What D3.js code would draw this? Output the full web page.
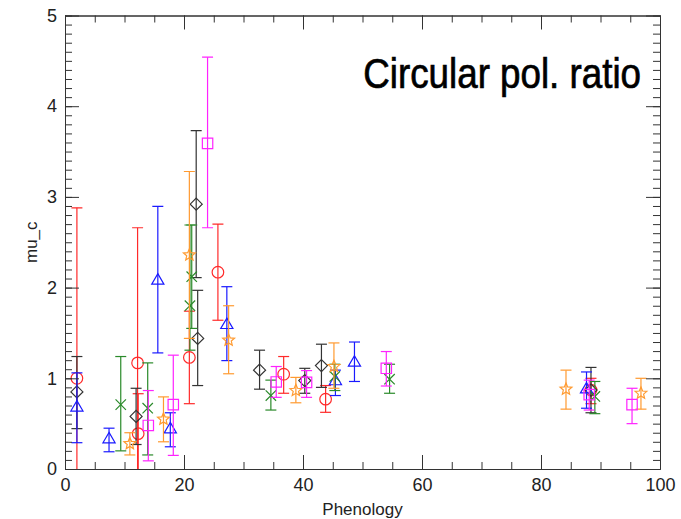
<!DOCTYPE html>
<html>
<head>
<meta charset="utf-8">
<script src="https://cdn.jsdelivr.net/npm/d3@7"></script>
<style>
  html, body { margin: 0; padding: 0; background: #fff; }
  svg { display: block; }
</style>
</head>
<body>
<svg id="chart" width="681" height="519"></svg>
<script>
// ---------- data ----------
const xTicks = [0, 20, 40, 60, 80, 100];
const yTicks = [0, 1, 2, 3, 4, 5];
const xLabel = "Phenology";
const yLabel = "mu_c";
const title = "Circular pol. ratio";

// red circles
const redX  = [2.0, 12.2, 12.3, 20.9, 25.7, 36.75, 43.8, 88.4];
const redY  = [1.00, 1.17, 0.39, 1.23, 2.17, 1.045, 0.77, 0.87];
const redLo = [-0.88, -0.32, -0.05, 0.72, 1.64, 0.835, 0.625, 0.72];
const redHi = [2.88, 2.66, 0.83, 1.74, 2.70, 1.24, 0.92, 1.00];

// black diamonds
const blackX  = [2.0, 11.95, 22.05, 22.3, 32.7, 40.3, 43.1, 88.4];
const blackY  = [0.85, 0.58, 2.92, 1.44, 1.09, 0.975, 1.14, 0.87];
const blackLo = [0.445, 0.27, 2.11, 0.92, 0.88, 0.835, 0.90, 0.62];
const blackHi = [1.24, 0.89, 3.73, 1.97, 1.31, 1.11, 1.376, 1.12];

// blue triangles
const blueX  = [2.0, 7.4, 15.6, 17.7, 27.2, 45.45, 48.65, 87.65];
const blueY  = [0.69, 0.34, 2.09, 0.45, 1.60, 0.98, 1.185, 0.89];
const blueLo = [0.29, 0.19, 1.28, 0.245, 1.195, 0.81, 0.965, 0.67];
const blueHi = [1.06, 0.45, 2.895, 0.62, 2.01, 1.09, 1.40, 1.07];

// green crosses
const greenX  = [9.37, 13.9, 21.3, 21.0, 34.6, 45.35, 54.55, 89.05];
const greenY  = [0.71, 0.67, 2.12, 1.80, 0.81, 1.02, 0.99, 0.80];
const greenLo = [0.20, 0.155, 1.55, 1.31, 0.65, 0.865, 0.835, 0.61];
const greenHi = [1.24, 1.17, 2.69, 2.69, 0.98, 1.155, 1.155, 0.965];

// orange stars
const orangeX  = [10.9, 16.55, 20.9, 27.5, 38.8, 45.2, 84.2, 96.8];
const orangeY  = [0.28, 0.55, 2.36, 1.42, 0.865, 1.13, 0.88, 0.835];
const orangeLo = [0.155, 0.30, 1.44, 1.05, 0.73, 0.89, 0.66, 0.66];
const orangeHi = [0.40, 0.795, 3.28, 1.80, 1.01, 1.39, 1.09, 1.00];

// magenta squares
const magentaX  = [14.0, 18.2, 23.96, 35.5, 40.6, 54.0, 88.1, 95.3];
const magentaY  = [0.48, 0.71, 3.59, 0.96, 0.955, 1.11, 0.82, 0.71];
const magentaLo = [0.09, 0.15, 2.66, 0.79, 0.79, 0.915, 0.65, 0.50];
const magentaHi = [0.865, 1.255, 4.54, 1.13, 1.085, 1.295, 0.98, 0.89];

// ---------- layout ----------
const W = 681, H = 519;
const margin = { left: 65, right: 21, top: 15.5, bottom: 50 };
const x = d3.scaleLinear().domain([0, 100]).range([margin.left, W - margin.right]);
const y = d3.scaleLinear().domain([0, 5]).range([H - margin.bottom, margin.top]);
const axisColor = "#333";
const fontFam = "'Liberation Sans', Arial, Helvetica, sans-serif";

const svg = d3.select("#chart");

svg.append("defs").append("clipPath").attr("id", "plotClip")
  .append("rect")
  .attr("x", x(0)).attr("y", y(5))
  .attr("width", x(100) - x(0)).attr("height", y(0) - y(5));

// ---------- symbols ----------
function circlePath(r) { const p = d3.path(); p.arc(0, 0, r, 0, 2 * Math.PI); p.closePath(); return p.toString(); }
function squarePath(s) { return `M${-s},${-s}L${s},${-s}L${s},${s}L${-s},${s}Z`; }
function diamondPath(s) { return `M0,${-s}L${s},0L0,${s}L${-s},0Z`; }
function trianglePath(s) { return `M0,${-s}L${s * 1.05},${s * 0.8}L${-s * 1.05},${s * 0.8}Z`; }
function crossPath(s) { return `M${-s},${-s}L${s},${s}M${-s},${s}L${s},${-s}`; }
function starPath(R) {
  const r = R * 0.45; let d = "";
  for (let i = 0; i < 10; i++) {
    const a = -Math.PI / 2 + i * Math.PI / 5;
    const rr = i % 2 === 0 ? R : r;
    d += (i === 0 ? "M" : "L") + (rr * Math.cos(a)).toFixed(2) + "," + (rr * Math.sin(a)).toFixed(2);
  }
  return d + "Z";
}

const series = [
  { xs: redX, ys: redY, lo: redLo, hi: redHi, color: "#ff2a2a", path: circlePath(5.8) },
  { xs: blackX, ys: blackY, lo: blackLo, hi: blackHi, color: "#333333", path: diamondPath(6) },
  { xs: blueX, ys: blueY, lo: blueLo, hi: blueHi, color: "#1a1aff", path: trianglePath(5.8) },
  { xs: greenX, ys: greenY, lo: greenLo, hi: greenHi, color: "#2a8a2a", path: crossPath(5.2) },
  { xs: orangeX, ys: orangeY, lo: orangeLo, hi: orangeHi, color: "#ff9a30", path: starPath(6.2) },
  { xs: magentaX, ys: magentaY, lo: magentaLo, hi: magentaHi, color: "#ff22ff", path: squarePath(5.2) }
];

const plot = svg.append("g").attr("clip-path", "url(#plotClip)");
const cap = 5.5;

series.forEach(s => {
  const g = plot.append("g").attr("stroke", s.color).attr("fill", "none").attr("stroke-width", 1.2);
  s.xs.forEach((xv, i) => {
    const px = x(xv);
    g.append("line").attr("x1", px).attr("x2", px).attr("y1", y(s.lo[i])).attr("y2", y(s.hi[i]));
    g.append("line").attr("x1", px - cap).attr("x2", px + cap).attr("y1", y(s.lo[i])).attr("y2", y(s.lo[i]));
    g.append("line").attr("x1", px - cap).attr("x2", px + cap).attr("y1", y(s.hi[i])).attr("y2", y(s.hi[i]));
    g.append("path").attr("d", s.path).attr("transform", `translate(${px},${y(s.ys[i])})`);
  });
});

// ---------- axes ----------
const xMinor = d3.range(0, 101, 5);
const yMinor = d3.range(0, 50.5, 1).map(v => v / 10);
const majorLen = 14, minorLen = 7;

function drawAxis(axisGen, transform) {
  const g = svg.append("g").attr("transform", transform).call(axisGen);
  g.selectAll("path.domain").attr("stroke", axisColor);
  g.selectAll(".tick line").attr("stroke", axisColor);
  return g;
}

// bottom
drawAxis(d3.axisBottom(x).tickValues(xMinor).tickSize(-minorLen).tickFormat("").tickSizeOuter(0), `translate(0,${y(0)})`);
const xb = drawAxis(d3.axisBottom(x).tickValues(xTicks).tickSize(-majorLen).tickSizeOuter(0).tickPadding(-majorLen + 23).tickFormat(d3.format("d")), `translate(0,${y(0)})`);
xb.selectAll("text").attr("font-family", fontFam).attr("font-size", 18).attr("fill", "#222");
// top
drawAxis(d3.axisTop(x).tickValues(xMinor).tickSize(-minorLen).tickFormat("").tickSizeOuter(0), `translate(0,${y(5)})`);
drawAxis(d3.axisTop(x).tickValues(xTicks).tickSize(-majorLen).tickFormat("").tickSizeOuter(0), `translate(0,${y(5)})`);
// left
drawAxis(d3.axisLeft(y).tickValues(yMinor).tickSize(-minorLen).tickFormat("").tickSizeOuter(0), `translate(${x(0)},0)`);
const yl = drawAxis(d3.axisLeft(y).tickValues(yTicks).tickSize(-majorLen).tickSizeOuter(0).tickPadding(-majorLen + 22).tickFormat(d3.format("d")), `translate(${x(0)},0)`);
yl.selectAll("text").attr("font-family", fontFam).attr("font-size", 18).attr("fill", "#222");
// right
drawAxis(d3.axisRight(y).tickValues(yMinor).tickSize(-minorLen).tickFormat("").tickSizeOuter(0), `translate(${x(100)},0)`);
drawAxis(d3.axisRight(y).tickValues(yTicks).tickSize(-majorLen).tickFormat("").tickSizeOuter(0), `translate(${x(100)},0)`);

// ---------- labels ----------
svg.append("text")
  .attr("x", (x(0) + x(100)) / 2).attr("y", 515)
  .attr("text-anchor", "middle")
  .attr("font-family", fontFam).attr("font-size", 17).attr("fill", "#222")
  .text(xLabel);

svg.append("text")
  .attr("transform", `translate(37,${(y(0) + y(5)) / 2}) rotate(-90)`)
  .attr("text-anchor", "middle")
  .attr("font-family", fontFam).attr("font-size", 17).attr("fill", "#222")
  .text(yLabel);

svg.append("text")
  .attr("transform", "translate(641,88) scale(0.875,1)")
  .attr("text-anchor", "end")
  .attr("font-family", fontFam)
  .attr("font-size", 42).attr("fill", "#000")
  .attr("stroke", "#000").attr("stroke-width", 0.7)
  .text(title);
</script>
</body>
</html>
